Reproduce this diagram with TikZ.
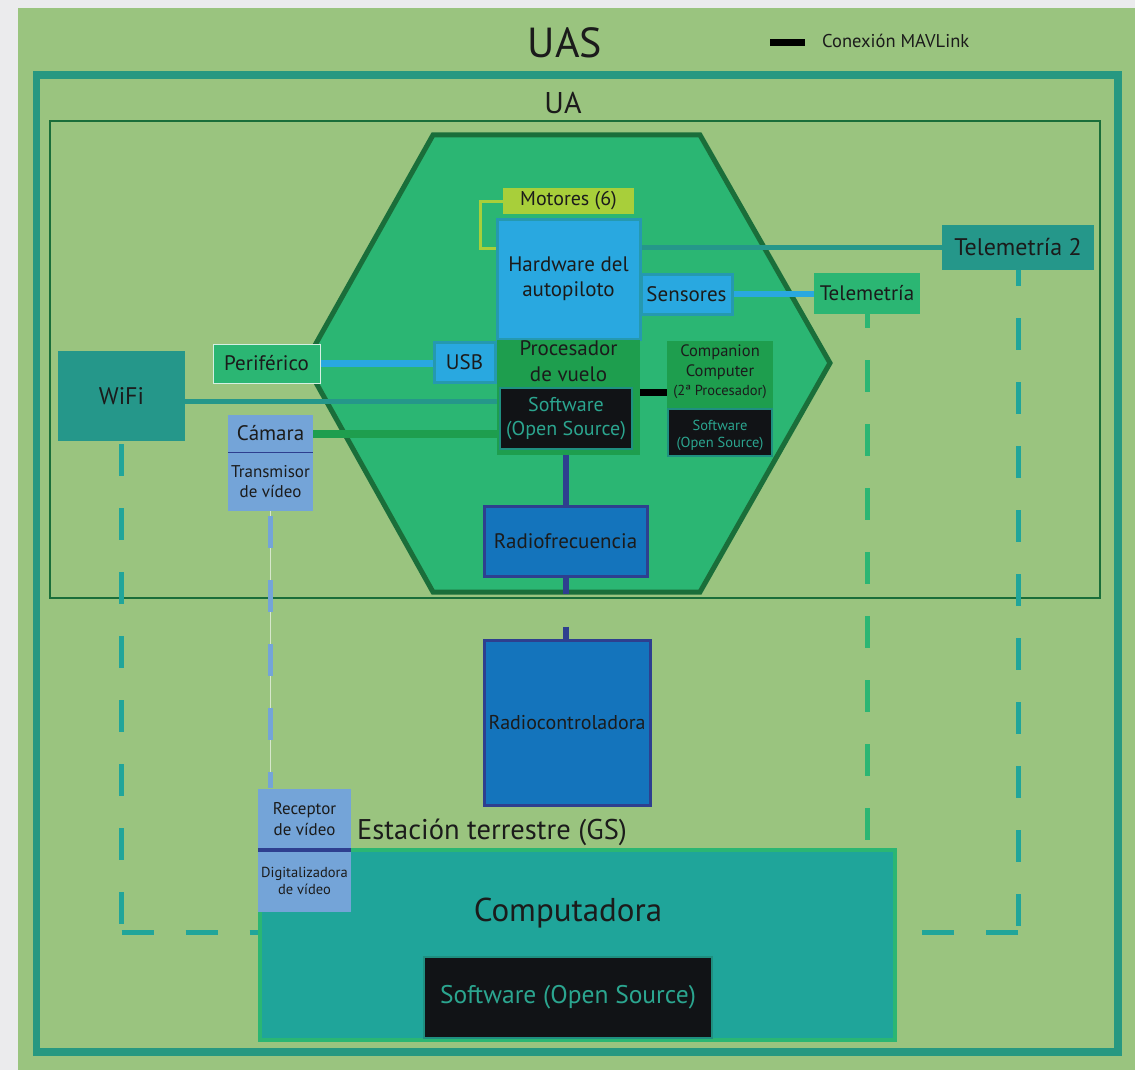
\documentclass[tikz,border=0pt]{standalone}
\usepackage{fontspec}
\setmainfont{PT Sans}
\usetikzlibrary{positioning}

\definecolor{paper}{HTML}{EBEBED}
\definecolor{uasgreen}{HTML}{9AC47F}
\definecolor{frameteal}{HTML}{279881}
\definecolor{uagreen}{HTML}{1A6E3A}
\definecolor{hexgreen}{HTML}{2BB673}
\definecolor{hwblue}{HTML}{29A8E0}
\definecolor{hwedge}{HTML}{2599B0}
\definecolor{lime}{HTML}{A8CF3A}
\definecolor{teal}{HTML}{25978A}
\definecolor{procgreen}{HTML}{1E9E4E}
\definecolor{swblack}{HTML}{111316}
\definecolor{swtext}{HTML}{2BA58F}
\definecolor{swedge}{HTML}{1F8F80}
\definecolor{camblue}{HTML}{74A4D8}
\definecolor{rfblue}{HTML}{1474BC}
\definecolor{navy}{HTML}{2E3F8F}
\definecolor{pcteal}{HTML}{1FA59A}
\definecolor{dashteal}{HTML}{21A59A}
\definecolor{ink}{HTML}{1B1B1B}

\newcommand\fsz[1]{\fontsize{#1pt}{\dimexpr #1pt*6/5\relax}\selectfont}

\pgfdeclarelayer{back}
\pgfdeclarelayer{wires}
\pgfsetlayers{back,wires,main}

\begin{document}
\begin{tikzpicture}[x=1pt, y=-1pt,
  box/.style={rectangle, inner sep=0pt, align=center, text=ink},
  hwbox/.style={box, fill=hwblue, draw=hwedge, line width=3pt},
  limebox/.style={box, fill=lime},
  greenbox/.style={box, fill=hexgreen},
  tealbox/.style={box, fill=teal},
  procbox/.style={box, fill=procgreen},
  swbox/.style={box, fill=swblack, draw=swedge, line width=2.5pt, text=swtext},
  cambox/.style={box, fill=camblue},
  rfbox/.style={box, fill=rfblue, draw=navy, line width=3pt},
  lbl/.style={inner sep=0pt, text=ink},
  wire/.style={line width=#1},
  dashwire/.style={line width=5pt, dash pattern=on 32pt off 32pt}]

  % fondo y marcos
  \begin{pgfonlayer}{back}
    \fill[paper] (0,0) rectangle (1135,1070);
    \fill[uasgreen] (18,8) rectangle (1135,1070);
    \draw[frameteal, line width=7.5pt] (36.5,75) rectangle (1118,1052);
    \draw[uagreen, line width=2.5pt] (50,121) rectangle (1100,598);
    \draw[uagreen, line width=5pt, fill=hexgreen, line join=miter]
      (433,135) -- (700,135) -- (830,363) -- (700,592) -- (433,592) -- (305,363) -- cycle;
  \end{pgfonlayer}

  \node[lbl, font=\fsz{42}] (uas) at (565,43) {UAS};
  \node[lbl, font=\fsz{30}] (ua) at (563,103) {UA};
  \coordinate (mavA) at (770,43);
  \coordinate (mavB) at (805,43);
  \node[lbl, anchor=west, font=\fsz{18.5}] (mavtxt) at (822,41) {Conexión MAVLink};

  % aeronave
  \node[limebox, minimum width=131pt, minimum height=26pt, font=\fsz{20}] (motores) at (568.5,201) {Motores (6)};
  \node[hwbox, minimum width=143pt, minimum height=120pt, font=\fsz{21}] (hw) at (568.5,279) {Hardware del\\autopiloto};
  \node[hwbox, minimum width=91pt, minimum height=40pt, font=\fsz{21}] (sens) at (686.5,294) {Sensores};
  \node[greenbox, minimum width=106pt, minimum height=41pt, font=\fsz{21}] (tel) at (867,293.5) {Telemetría};
  \node[tealbox, minimum width=152pt, minimum height=45pt, font=\fsz{24}] (tel2) at (1018,247.5) {Telemetría 2};
  \node[tealbox, minimum width=127pt, minimum height=90pt, font=\fsz{24}] (wifi) at (121.5,396) {WiFi};
  \node[greenbox, draw=white!80!hexgreen, line width=1pt, minimum width=107pt, minimum height=39pt, font=\fsz{21}] (perif) at (266.5,363.5) {Periférico};
  \node[hwbox, minimum width=61pt, minimum height=40pt, font=\fsz{21}] (usb) at (464.5,362) {USB};
  \node[procbox, minimum width=143pt, minimum height=115pt] (proc) at (568.5,397.5) {};
  \node[lbl, align=center, below=1pt of proc.north, font=\fsz{21}] (proctxt) {Procesador\\de vuelo};
  \node[swbox, minimum width=132pt, minimum height=61pt, font=\fsz{20}] (sw) at (566,418.5) {Software\\(Open Source)};
  \node[procbox, minimum width=106pt, minimum height=116pt] (comp) at (720,399) {};
  \node[lbl, align=center, below=4pt of comp.north, font=\fsz{16.5}] (comptxt) {Companion\\Computer\\[-1pt]{\fsz{14.5}(2ª Procesador)}};
  \node[swbox, line width=2pt, minimum width=104pt, minimum height=47pt, font=\fsz{14.5}] (compsw) at (720,432.5) {\rule{0pt}{16pt}Software\\(Open Source)};
  \node[cambox, minimum width=85pt, minimum height=37pt, font=\fsz{21}] (cam) at (270.5,433.5) {Cámara};
  \node[cambox, minimum width=85pt, minimum height=59pt, font=\fsz{17}] (tx) at (270.5,481.5) {Transmisor\\de vídeo};
  \node[rfbox, minimum width=163pt, minimum height=70pt, font=\fsz{21}] (rf) at (565.5,541) {Radiofrecuencia};

  % estacion terrestre
  \node[rfbox, minimum width=166pt, minimum height=165pt, font=\fsz{20}] (rc) at (567,722.5) {Radiocontroladora};
  \node[box, fill=pcteal, draw=hexgreen, line width=4pt, minimum width=635pt, minimum height=190pt] (pc) at (577.5,945) {};
  \node[lbl, font=\fsz{33}] (pctxt) at (568,913) {Computadora};
  \node[swbox, minimum width=288pt, minimum height=81pt, font=\fsz{25.5}] (pcsw) at (568,997.5) {Software (Open Source)};
  \node[cambox, minimum width=93pt, minimum height=61pt, font=\fsz{17}] (rx) at (304.5,819) {Receptor\\de vídeo};
  \node[cambox, minimum width=93pt, minimum height=62pt, font=\fsz{14.5}] (dig) at (304.5,881) {Digitalizadora\\de vídeo};
  \node[lbl, anchor=west, font=\fsz{28.5}] (gs) at (357,832) {Estación terrestre (GS)};

  \draw[navy, line width=1pt] (cam.south west) -- (cam.south east);
  \draw[navy, line width=4pt] (rx.south west) -- (rx.south east);

  % esquinas de las lineas punteadas
  \coordinate (wificorner) at (wifi.south |- 0,932);
  \coordinate (tel2corner) at (tel2.south |- 0,932);

  % conexiones
  \begin{pgfonlayer}{wires}
    \draw[black, wire=7pt] (mavA) -- (mavB);
    \draw[lime, wire=3pt] (motores.west) -- ++(-22,0) |- ([yshift=31pt]hw.west);
    \draw[teal, wire=5pt] (hw.east |- tel2.west) -- (tel2.west);
    \draw[hwblue, wire=6pt] (sens.east) -- (sens.east -| tel.west);
    \draw[hwblue, wire=7pt] (perif.east) -- (perif.east -| usb.west);
    \draw[teal, wire=5pt] ([yshift=-5pt]wifi.east) -- ([yshift=-5pt]wifi.east -| sw.west);
    \draw[procgreen, wire=8pt] (cam.east) -- (cam.east -| proc.west);
    \draw[black, wire=7pt] ([yshift=5.5pt]proc.east) -- ([yshift=5.5pt]proc.east -| comp.west);
    \draw[navy, wire=6pt] (rf.north |- proc.south) -- (rf.north);
    \draw[navy, wire=6pt, dash pattern=on 16pt off 33pt on 20pt] (rf.south) -- (rf.south |- rc.north);
    \draw[white!60!uasgreen, wire=1pt] (tx.south) -- (tx.south |- rx.north);
    \draw[camblue, dashwire, dash phase=-5pt] (tx.south) -- (tx.south |- rx.north);
    \draw[hexgreen, dashwire, dash phase=18pt] (tel.south) -- (tel.south |- pc.north);
    \draw[dashteal, dashwire, dash phase=16pt] (tel2.south) -- (tel2corner);
    \draw[dashteal, dashwire] (tel2corner) -- ([yshift=13pt]pc.east);
    \draw[dashteal, dashwire, dash phase=-3pt] (wifi.south) -- (wificorner);
    \draw[dashteal, dashwire] (wificorner) -- ([yshift=13pt]pc.west);
  \end{pgfonlayer}
\end{tikzpicture}
\end{document}
